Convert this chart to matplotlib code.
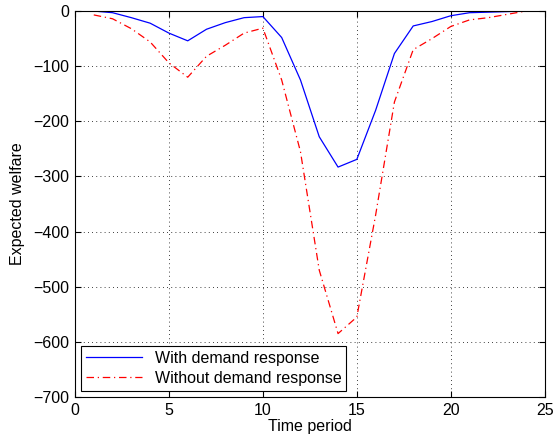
import matplotlib
matplotlib.use("Agg")
import matplotlib.pyplot as plt

plt.rcParams["font.family"] = ["Liberation Sans", "DejaVu Sans"]

periods = list(range(1, 25))
with_dr = [0, -3, -12, -22, -40, -54, -33, -21, -12, -10, -48, -125,
           -228, -283, -269, -180, -77, -27, -19, -8.5, -3, -2, -1, 0]
without_dr = [-7, -14, -32, -56, -94, -120, -82, -62, -40, -31, -125, -255,
              -470, -585, -555, -370, -165, -70, -50, -28, -16, -12, -6, 0]

fig = plt.figure(figsize=(5.57, 4.42), dpi=100)
ax = fig.add_axes([0.1346, 0.1018, 0.8434, 0.8732])

ax.plot(periods, with_dr, color="#0000ff", linewidth=0.9, label="With demand response")
ax.plot(periods, without_dr, color="#ff0000", linewidth=0.9, linestyle="-.",
        dashes=(6, 3, 1, 3), label="Without demand response")

ax.set_xlim(0, 25)
ax.set_ylim(-700, 0)
ax.set_xticks(range(0, 26, 5))
ax.set_yticks(range(-700, 1, 100))
ax.tick_params(direction="in", top=True, right=True, labelsize=11.5, length=4, pad=4)
ax.grid(True, color="black", linestyle=(0, (1, 4)), linewidth=0.6)

ax.set_xlabel("Time period", fontsize=11.5, labelpad=1)
ax.set_ylabel("Expected welfare", fontsize=11.5, labelpad=6)

leg = ax.legend(loc="lower left", fontsize=11.5, fancybox=False, framealpha=1,
                edgecolor="black", borderaxespad=0.4, handlelength=3.5,
                borderpad=0.3, labelspacing=0.3)
leg.get_frame().set_linewidth(0.8)

fig.savefig("out.png", dpi=100)
